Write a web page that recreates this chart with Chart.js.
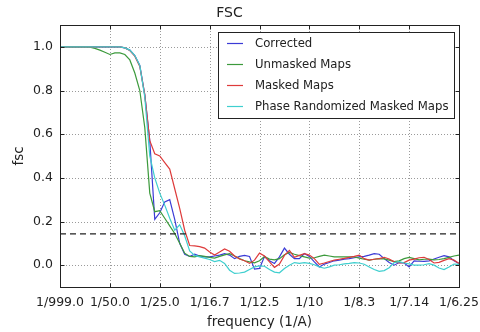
<!DOCTYPE html>
<html><head><meta charset="utf-8">
<script src="https://cdn.jsdelivr.net/npm/chart.js@4/dist/chart.umd.min.js"></script>
<style>html,body{margin:0;padding:0;background:#fff}#wrap{width:480px;height:332px}</style>
</head><body><div id="wrap"><canvas id="c" width="480" height="332"></canvas></div>
<script>
const title = "FSC";
const xTitle = "frequency (1/A)";
const yTitle = "fsc";
const xTickValues = [0, 0.02, 0.04, 0.06, 0.08, 0.10, 0.12, 0.14, 0.16];
const xTickLabels = ["1/999.0", "1/50.0", "1/25.0", "1/16.7", "1/12.5", "1/10", "1/8.3", "1/7.14", "1/6.25"];
const yTickValues = [0.0, 0.2, 0.4, 0.6, 0.8, 1.0];
const threshold = 0.143;
const seriesNames = ["Corrected", "Unmasked Maps", "Masked Maps", "Phase Randomized Masked Maps"];

const frequency = [0.000,0.002,0.004,0.006,0.008,0.010,0.012,0.014,0.016,0.018,
0.020,0.022,0.024,0.026,0.028,0.030,0.032,0.034,0.036,0.038,
0.040,0.042,0.044,0.046,0.048,0.050,0.052,0.054,0.056,0.058,
0.060,0.062,0.064,0.066,0.068,0.070,0.072,0.074,0.076,0.078,
0.080,0.082,0.084,0.086,0.088,0.090,0.092,0.094,0.096,0.098,
0.100,0.102,0.104,0.106,0.108,0.110,0.112,0.114,0.116,0.118,
0.120,0.122,0.124,0.126,0.128,0.130,0.132,0.134,0.136,0.138,
0.140,0.142,0.144,0.146,0.148,0.150,0.152,0.154,0.156,0.158,0.160];

const corrected = [1,1,1,1,1,1,1,1,1,1,
1,1,1,0.995,0.985,0.96,0.915,0.78,0.57,0.21,
0.24,0.29,0.30,0.21,0.10,0.05,0.04,0.05,0.042,0.038,
0.038,0.042,0.046,0.053,0.046,0.03,0.04,0.045,0.04,-0.018,
-0.015,0.04,0.02,0.008,0.038,0.078,0.05,0.03,0.03,0.053,
0.04,0.015,-0.008,0.005,0.012,0.02,0.023,0.028,0.03,0.034,
0.038,0.04,0.046,0.053,0.05,0.03,0.012,0.0,0.012,0.01,
-0.008,0.02,0.018,0.017,0.02,0.028,0.036,0.044,0.038,0.02,0.008];

const unmasked = [1,1,1,1,1,1,0.998,0.993,0.985,0.975,
0.965,0.972,0.972,0.965,0.94,0.88,0.80,0.63,0.33,0.245,
0.25,0.215,0.18,0.145,0.10,0.055,0.04,0.038,0.044,0.04,
0.036,0.032,0.04,0.047,0.053,0.042,0.03,0.02,0.015,0.011,
0.02,0.04,0.028,0.024,0.03,0.048,0.058,0.05,0.044,0.038,
0.032,0.034,0.04,0.046,0.042,0.038,0.038,0.038,0.038,0.038,
0.032,0.027,0.023,0.027,0.03,0.029,0.023,0.016,0.02,0.03,
0.036,0.03,0.024,0.027,0.028,0.024,0.026,0.03,0.036,0.042,0.046];

const masked = [1,1,1,1,1,1,1,1,1,1,
1,1,1,0.995,0.983,0.957,0.91,0.78,0.57,0.51,
0.50,0.47,0.44,0.35,0.26,0.16,0.09,0.088,0.085,0.078,
0.06,0.046,0.06,0.074,0.064,0.042,0.028,0.02,0.008,0.023,
0.055,0.042,0.015,-0.01,0.005,0.045,0.068,0.036,0.045,0.053,
0.046,0.03,0.004,0.01,0.017,0.023,0.027,0.031,0.036,0.04,
0.046,0.03,0.023,0.027,0.03,0.036,0.028,0.015,0.01,0.012,
0.023,0.028,0.034,0.036,0.026,0.01,0.013,0.022,0.03,0.023,0.008];

const phaseRandomized = [1,1,1,1,1,1,1,1,1,1,
1,1,1,0.995,0.985,0.96,0.915,0.77,0.50,0.40,
0.33,0.275,0.215,0.16,0.185,0.135,0.065,0.045,0.038,0.032,
0.026,0.016,0.022,0.008,-0.023,-0.038,-0.036,-0.032,-0.02,-0.008,
-0.003,-0.005,-0.02,-0.032,-0.035,-0.015,0.0,0.012,0.008,0.012,
0.008,0.002,-0.008,-0.014,-0.008,0.0,0.002,0.006,0.008,0.012,
0.01,0.004,-0.008,-0.02,-0.028,-0.025,-0.012,0.012,0.016,0.01,
0.006,0.0,0.0,0.002,0.007,0.0,-0.013,-0.02,-0.008,0.005,0.004];

const seriesValues = [corrected, unmasked, masked, phaseRandomized];
const seriesColors = ["#3b3bd6", "#3c9a3c", "#de3b3b", "#3fcfcf"];
const seriesOrder = [4, 3, 2, 1];

const FONT = "'DejaVu Sans', sans-serif";

const datasets = seriesValues.map((vals, k) => ({
  label: seriesNames[k],
  data: frequency.map((f, i) => ({x: f, y: vals[i]})),
  borderColor: seriesColors[k],
  borderWidth: 1.2,
  pointRadius: 0,
  tension: 0,
  fill: false,
  order: seriesOrder[k]
}));
datasets.push({
  label: "threshold",
  data: [{x: xTickValues[0], y: threshold}, {x: xTickValues[xTickValues.length - 1], y: threshold}],
  borderColor: "#222",
  borderWidth: 1.3,
  borderDash: [6, 4],
  pointRadius: 0,
  order: 0,
  isThreshold: true
});

const framePlugin = {
  id: "frame",
  beforeDatasetsDraw(chart) {
    const {ctx, chartArea: a, scales} = chart;
    ctx.save();
    ctx.strokeStyle = "#9a9a9a";
    ctx.lineWidth = 1;
    ctx.setLineDash([1, 2]);
    xTickValues.forEach(v => {
      const x = Math.round(scales.x.getPixelForValue(v)) + 0.5;
      ctx.beginPath(); ctx.moveTo(x, a.top); ctx.lineTo(x, a.bottom); ctx.stroke();
    });
    yTickValues.forEach(v => {
      const y = Math.round(scales.y.getPixelForValue(v)) + 0.5;
      ctx.beginPath(); ctx.moveTo(a.left, y); ctx.lineTo(a.right, y); ctx.stroke();
    });
    ctx.restore();
  },
  afterDatasetsDraw(chart) {
    const {ctx, chartArea: a, scales} = chart;
    ctx.save();
    ctx.strokeStyle = "#222";
    ctx.lineWidth = 1;
    ctx.setLineDash([]);
    const L = Math.round(a.left) + 0.5, R = Math.round(a.right) + 0.5;
    const T = Math.round(a.top) + 0.5, B = Math.round(a.bottom) + 0.5;
    ctx.strokeRect(L, T, R - L, B - T);
    xTickValues.forEach(v => {
      const x = Math.round(scales.x.getPixelForValue(v)) + 0.5;
      ctx.beginPath(); ctx.moveTo(x, B); ctx.lineTo(x, B - 4); ctx.moveTo(x, T); ctx.lineTo(x, T + 4); ctx.stroke();
    });
    yTickValues.forEach(v => {
      const y = Math.round(scales.y.getPixelForValue(v)) + 0.5;
      ctx.beginPath(); ctx.moveTo(L, y); ctx.lineTo(L + 4, y); ctx.moveTo(R, y); ctx.lineTo(R - 4, y); ctx.stroke();
    });
    const bx = 218.5, by = 32.5, bw = 236, bh = 86;
    ctx.fillStyle = "#fff";
    ctx.fillRect(bx, by, bw, bh);
    ctx.strokeRect(bx, by, bw, bh);
    ctx.font = "11.7px " + FONT;
    ctx.textBaseline = "middle";
    ctx.textAlign = "left";
    chart.data.datasets.filter(d => !d.isThreshold).forEach((d, i) => {
      const y = 43.5 + 21 * i;
      ctx.strokeStyle = d.borderColor;
      ctx.lineWidth = 1.2;
      ctx.beginPath(); ctx.moveTo(227, y); ctx.lineTo(243, y); ctx.stroke();
      ctx.fillStyle = "#222";
      ctx.fillText(d.label, 255, y);
    });
    ctx.restore();
  }
};

new Chart(document.getElementById("c"), {
  type: "line",
  data: {datasets},
  options: {
    responsive: false,
    devicePixelRatio: 1,
    animation: false,
    events: [],
    layout: {padding: {left: 0, right: 21, top: 0, bottom: 0}},
    plugins: {
      legend: {display: false},
      tooltip: {enabled: false},
      title: {
        display: true, text: title, color: "#222",
        font: {family: FONT, size: 14, weight: "normal"},
        padding: {top: 5, bottom: 3.2}
      }
    },
    scales: {
      x: {
        type: "linear", min: xTickValues[0], max: xTickValues[xTickValues.length - 1],
        grid: {display: false, drawTicks: false},
        border: {display: false},
        afterBuildTicks: ax => { ax.ticks = xTickValues.map(v => ({value: v})); },
        afterFit: sc => { sc.height = 45; sc.paddingRight = 0; sc.paddingLeft = 0; },
        ticks: {
          autoSkip: false, maxRotation: 0, padding: 8, color: "#222",
          font: {family: FONT, size: 12.5},
          callback: (v, i) => xTickLabels[i]
        },
        title: {display: true, text: xTitle, color: "#222", font: {family: FONT, size: 13.5}, padding: {top: 0, bottom: 1}}
      },
      y: {
        type: "linear", min: -0.1, max: 1.1,
        grid: {display: false, drawTicks: false},
        border: {display: false},
        afterBuildTicks: ax => { ax.ticks = yTickValues.map(v => ({value: v})); },
        afterFit: sc => { sc.width = 60; sc.paddingTop = 0; sc.paddingBottom = 0; },
        ticks: {
          padding: 7, color: "#222",
          font: {family: FONT, size: 12.5},
          callback: v => Number(v).toFixed(1)
        },
        title: {display: true, text: yTitle, color: "#222", font: {family: FONT, size: 13.5}, padding: {top: 11, bottom: 0}}
      }
    }
  },
  plugins: [framePlugin]
});
</script>
</body></html>
